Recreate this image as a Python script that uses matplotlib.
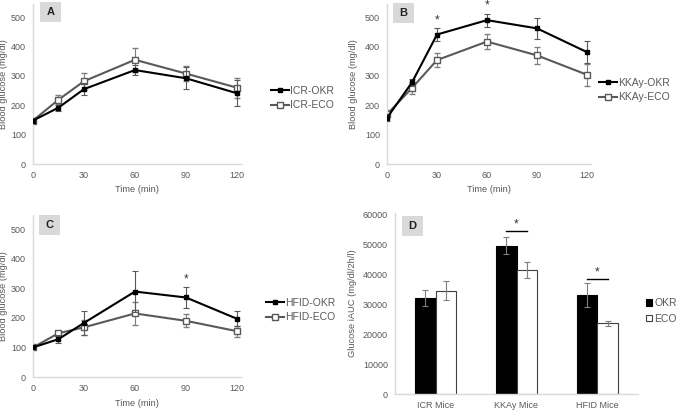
import matplotlib
matplotlib.use("Agg")
import matplotlib.pyplot as plt
from matplotlib.lines import Line2D
from matplotlib.patches import Rectangle
import numpy as np

plt.rcParams['font.family'] = ['Liberation Sans', 'DejaVu Sans']

# ---------------- data ----------------
time_min = [0, 15, 30, 60, 90, 120]

icr_okr = [148, 192, 255, 320, 292, 241]
icr_okr_err = [10, 10, 20, 18, 38, 45]
icr_eco = [148, 219, 282, 355, 308, 260]
icr_eco_err = [8, 15, 29, 41, 26, 34]

kkay_okr = [157, 278, 441, 490, 462, 381]
kkay_okr_err = [12, 12, 22, 22, 36, 38]
kkay_eco = [169, 259, 354, 417, 370, 304]
kkay_eco_err = [14, 20, 23, 25, 29, 38]

hfid_okr = [100, 128, 183, 289, 269, 197]
hfid_okr_err = [5, 14, 40, 68, 35, 26]
hfid_eco = [100, 148, 168, 215, 190, 155]
hfid_eco_err = [5, 8, 26, 38, 22, 18]

groups = ["ICR Mice", "KKAy Mice", "HFID Mice"]
auc_okr = [32000, 49500, 33000]
auc_okr_err = [2600, 2800, 4000]
auc_eco = [34500, 41300, 23600]
auc_eco_err = [3200, 2700, 900]

TXT = '#595959'
SPINE = '#d9d9d9'
ECO_C = '#595959'

fig = plt.figure(figsize=(6.85, 4.11), dpi=100)
W, H = 685, 411


def add_ax(left, right, top, bottom):
    return fig.add_axes([left / W, 1 - bottom / H, (right - left) / W, (bottom - top) / H])


def style(ax):
    for s in ['top', 'right']:
        ax.spines[s].set_visible(False)
    for s in ['left', 'bottom']:
        ax.spines[s].set_color(SPINE)
        ax.spines[s].set_linewidth(1.0)
    ax.tick_params(length=0, labelsize=6.5, colors=TXT, pad=5)


def tag(x0, y0, letter):
    # grey letter box, in figure pixels
    fig.patches.append(Rectangle((x0 / W, 1 - (y0 + 20) / H), 21 / W, 20 / H,
                                 transform=fig.transFigure, fc='#d9d9d9', ec='none'))
    fig.text((x0 + 10.5) / W, 1 - (y0 + 10) / H, letter, ha='center', va='center',
             fontsize=8, fontweight='bold', color='#222222')


def line_panel(ax, okr, okr_err, eco, eco_err, names, ytop, leg_xy, ylab_x):
    ax.errorbar(time_min, eco, yerr=eco_err, color=ECO_C, lw=1.5, marker='s', ms=4.5,
                mfc='white', mec=ECO_C, mew=1.0, ecolor='#7f7f7f', elinewidth=0.8,
                capsize=2, capthick=0.8, zorder=2)
    ax.errorbar(time_min, okr, yerr=okr_err, color='black', lw=1.5, marker='s', ms=3.5,
                mfc='black', mec='black', ecolor='#595959', elinewidth=0.8,
                capsize=2, capthick=0.8, zorder=3)
    ax.set_xlim(0, 122.4)
    ax.set_ylim(0, ytop)
    ax.set_xticks([0, 30, 60, 90, 120])
    ax.set_yticks([0, 100, 200, 300, 400, 500])
    ax.set_xlabel("Time (min)", fontsize=6.7, color=TXT, labelpad=4)
    ax.set_ylabel("Blood glucose (mg/dl)", fontsize=6.7, color=TXT)
    ax.yaxis.set_label_coords(ylab_x, 0.5)
    style(ax)
    handles = [Line2D([], [], color='black', lw=1.5, marker='s', ms=3.5),
               Line2D([], [], color=ECO_C, lw=1.5, marker='s', ms=4.5, mfc='white', mec=ECO_C)]
    ax.legend(handles, names, loc='center left', bbox_to_anchor=(leg_xy[0] / W, 1 - leg_xy[1] / H),
              bbox_transform=fig.transFigure, frameon=False, fontsize=7.5,
              handlelength=1.7, handletextpad=0.15, labelspacing=0.45, borderpad=0,
              labelcolor=TXT)


# ---------------- A ----------------
axA = add_ax(33, 241, 4, 164)
line_panel(axA, icr_okr, icr_okr_err, icr_eco, icr_eco_err, ["ICR-OKR", "ICR-ECO"], 545, (266, 98), -0.12)
tag(40, 2, "A")

# ---------------- B ----------------
axB = add_ax(387, 591, 4, 164)
line_panel(axB, kkay_okr, kkay_okr_err, kkay_eco, kkay_eco_err, ["KKAy-OKR", "KKAy-ECO"], 545, (594, 90), -0.142)
tag(393, 3, "B")
axB.text(30, 468, "*", ha='center', va='bottom', fontsize=8.5, color='#333333')
axB.text(60, 518, "*", ha='center', va='bottom', fontsize=8.5, color='#333333')

# ---------------- C ----------------
axC = add_ax(33, 241, 215, 377)
line_panel(axC, hfid_okr, hfid_okr_err, hfid_eco, hfid_eco_err, ["HFID-OKR", "HFID-ECO"], 548, (261, 310), -0.12)
tag(39, 215, "C")
axC.text(90, 310, "*", ha='center', va='bottom', fontsize=8.5, color='#333333')

# ---------------- D ----------------
axD = add_ax(395, 638, 213, 394)
x = np.arange(len(groups))
bw = 0.25
axD.bar(x - bw / 2, auc_okr, bw, color='black', edgecolor='black', lw=0.8, label='OKR')
axD.bar(x + bw / 2, auc_eco, bw, color='white', edgecolor='#404040', lw=0.8, label='ECO')
axD.errorbar(x - bw / 2, auc_okr, yerr=auc_okr_err, fmt='none', ecolor='#7f7f7f',
             elinewidth=0.8, capsize=2, capthick=0.8)
axD.errorbar(x + bw / 2, auc_eco, yerr=auc_eco_err, fmt='none', ecolor='#7f7f7f',
             elinewidth=0.8, capsize=2, capthick=0.8)
axD.set_xlim(-0.5, 2.5)
axD.set_ylim(0, 60400)
axD.set_yticks(range(0, 60001, 10000))
axD.set_xticks(x)
axD.set_xticklabels(groups)
axD.set_ylabel("Glucose iAUC (mg/dl/2h/l)", fontsize=6.7, color=TXT)
axD.yaxis.set_label_coords(-0.156, 0.5)
style(axD)
for gi, ybar in [(1, 54400), (2, 38400)]:
    axD.plot([gi - bw / 2, gi + bw / 2], [ybar, ybar], color='black', lw=1.0)
    axD.text(gi, ybar + 300, "*", ha='center', va='bottom', fontsize=8.5, color='#333333')
tag(402, 216, "D")
axD.legend(loc='center left', bbox_to_anchor=(641 / W, 1 - 311 / H),
           bbox_transform=fig.transFigure, frameon=False, fontsize=7.5,
           handlelength=0.6, handleheight=0.6, handletextpad=0.15, labelspacing=0.5,
           borderpad=0, labelcolor=TXT)

fig.savefig("out.png", dpi=100)
